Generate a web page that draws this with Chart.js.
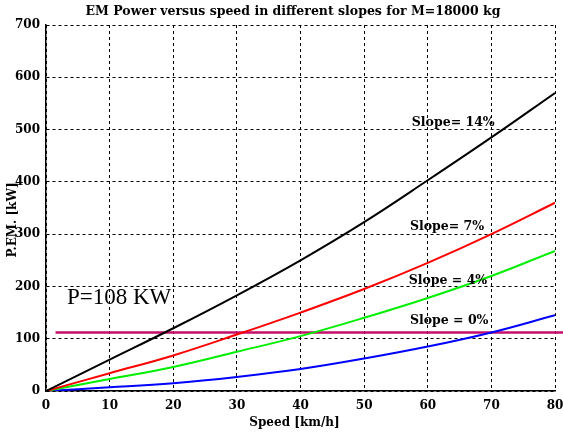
<!DOCTYPE html>
<html>
<head>
<meta charset="utf-8">
<script src="https://cdn.jsdelivr.net/npm/chart.js@4.4.1/dist/chart.umd.min.js"></script>
<style>
  html, body { margin: 0; padding: 0; background: #fff; }
  #wrap { width: 563px; height: 435px; }
</style>
</head>
<body>
<div id="wrap"><canvas id="em-power-chart"></canvas></div>
<script>
// speed [km/h] and EM power [kW]
const speeds = [0, 10, 20, 30, 40, 50, 60, 70, 80];
const slope14 = [0, 60, 120, 183, 250, 323, 403, 485, 570];
const slope7 = [0, 34, 68, 108, 150, 195, 245, 300, 360];
const slope4 = [0, 23, 46, 75, 105, 140, 178, 220, 268];
const slope0 = [0, 7, 15, 27, 42, 62, 85, 112, 145];
const powerLimit = 112;
const limitSpeeds = [1.5, 82];
const xTicks = [0, 10, 20, 30, 40, 50, 60, 70, 80];
const yTicks = [0, 100, 200, 300, 400, 500, 600, 700];

const slopeLabels = [
    { text: 'Slope= 14%', x: 57.5, y: 514 },
    { text: 'Slope= 7%', x: 57.2, y: 315 },
    { text: 'Slope = 4%', x: 57, y: 210 },
    { text: 'Slope = 0%', x: 57.2, y: 134 }
];

function toPoints(values) {
    return speeds.map((s, i) => ({ x: s, y: values[i] }));
}

const tickFont = { family: 'DejaVu Serif', weight: 'bold', size: 12 };

const textPlugin = {
    id: 'chartText',
    afterDraw(chart) {
        const ctx = chart.ctx;
        const xs = chart.scales.x;
        const ys = chart.scales.y;
        const area = chart.chartArea;
        ctx.save();
        ctx.fillStyle = '#000';
        ctx.textBaseline = 'middle';
        ctx.textAlign = 'center';
        ctx.font = 'bold 12.5px "DejaVu Serif"';
        ctx.fillText('EM Power versus speed in different slopes for M=18000 kg', 293, 12);

        ctx.textAlign = 'left';
        ctx.font = 'bold 12.5px "DejaVu Serif"';
        slopeLabels.forEach(l => {
            ctx.fillText(l.text, xs.getPixelForValue(l.x), ys.getPixelForValue(l.y));
        });
        ctx.font = '23px "Liberation Serif"';
        ctx.fillText('P=108 KW', xs.getPixelForValue(3.3), ys.getPixelForValue(178));

        // axis titles
        ctx.font = 'bold 12px "DejaVu Serif"';
        ctx.textAlign = 'center';
        ctx.fillText('Speed [km/h]', (area.left + area.right) / 2 - 6, 423);
        ctx.translate(13, 220);
        ctx.rotate(-Math.PI / 2);
        ctx.fillText('P.EM. [kW]', 0, 0);
        ctx.restore();
    }
};

const emPowerChart = new Chart(document.getElementById('em-power-chart').getContext('2d'), {
    type: 'line',
    data: {
        datasets: [
            { label: 'Slope 14%', data: toPoints(slope14), borderColor: '#000000' },
            { label: 'Slope 7%', data: toPoints(slope7), borderColor: '#ff0000' },
            { label: 'Slope 4%', data: toPoints(slope4), borderColor: '#00ee00' },
            { label: 'Slope 0%', data: toPoints(slope0), borderColor: '#0000ff' },
            {
                label: 'P=108 KW',
                data: limitSpeeds.map(s => ({ x: s, y: powerLimit })),
                borderColor: '#c40e6c',
                borderWidth: 2.5,
                clip: false
            }
        ]
    },
    options: {
        responsive: true,
        maintainAspectRatio: false,
        animation: false,
        elements: {
            point: { radius: 0 },
            line: { borderWidth: 2, tension: 0.4, fill: false }
        },
        layout: { padding: { top: 25, right: 0, left: 0, bottom: 0 } },
        plugins: {
            legend: { display: false },
            tooltip: { enabled: false },
            title: { display: false }
        },
        scales: {
            x: {
                type: 'linear',
                min: 0,
                max: 80,
                afterFit: scale => {
                    scale.height = 44;
                    scale.paddingLeft = 0;
                    scale.paddingRight = 8;
                },
                afterBuildTicks: scale => { scale.ticks = xTicks.map(v => ({ value: v })); },
                ticks: { color: '#000', font: tickFont, padding: 8, maxRotation: 0 },
                grid: { color: '#000', lineWidth: 1, drawTicks: false },
                border: { display: true, color: '#000', width: 1.5, dash: [3, 3] }
            },
            y: {
                min: 0,
                max: 700,
                afterFit: scale => {
                    scale.width = 46;
                    scale.paddingTop = 0;
                    scale.paddingBottom = 0;
                },
                afterBuildTicks: scale => { scale.ticks = yTicks.map(v => ({ value: v })); },
                ticks: { color: '#000', font: tickFont, padding: 6 },
                grid: { color: '#000', lineWidth: 1, drawTicks: false },
                border: { display: true, color: '#000', width: 1.5, dash: [3, 3] }
            }
        }
    },
    plugins: [textPlugin]
});
</script>
</body>
</html>
